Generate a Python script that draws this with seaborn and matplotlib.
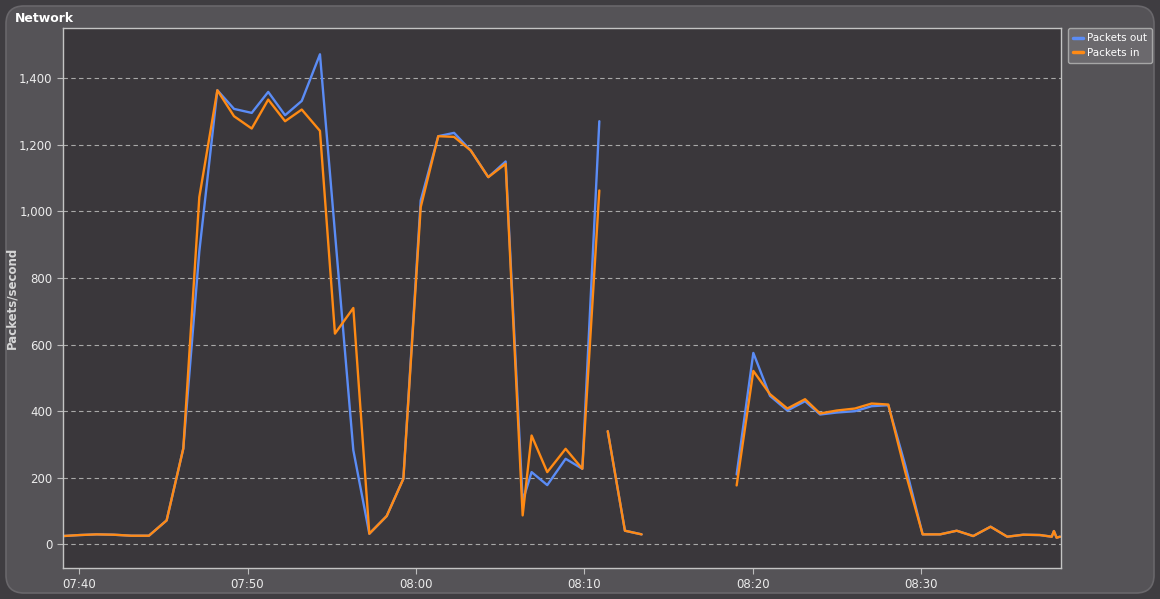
import matplotlib
matplotlib.use("Agg")
import matplotlib.pyplot as plt
from matplotlib.patches import FancyBboxPatch
from matplotlib.lines import Line2D
from matplotlib.ticker import FuncFormatter, FixedLocator
import seaborn as sns
import pandas as pd
import numpy as np

# ---- data (minutes after 07:40) ----
seg1_t = [-0.95, 0.05, 1.05, 2.05, 3.1, 4.15, 5.2, 6.19, 7.14, 8.21, 9.2, 10.25, 11.23,
          12.23, 13.22, 14.3, 15.19, 16.28, 17.23, 18.26, 19.25, 20.28, 21.32, 22.26,
          23.25, 24.29, 25.32, 26.33, 26.86, 27.79, 28.88, 29.87, 30.88]
seg1_in = [25, 28, 30, 29, 26, 26, 72, 288, 1043, 1364, 1286, 1249, 1336, 1271, 1306,
           1242, 633, 710, 32, 85, 197, 1013, 1226, 1224, 1183, 1103, 1143, 87, 327,
           217, 287, 227, 1063]
seg1_out = [25, 28, 30, 29, 26, 26, 72, 288, 880, 1364, 1308, 1296, 1359, 1289, 1332,
            1472, 936, 283, 32, 85, 197, 1033, 1226, 1236, 1183, 1103, 1150, 130, 217,
            178, 257, 227, 1271]

seg2_t = [31.38, 32.40, 33.39]
seg2_in = [340, 41, 30]
seg2_out = [340, 41, 30]

seg3_t = [39.03, 40.02, 41.01, 42.04, 43.09, 43.98, 44.97, 46.05, 47.04, 48.03, 49.05,
          50.07, 51.1, 52.09, 53.07, 54.1, 55.09, 56.04, 57.03, 57.73, 57.86, 58.02, 58.22]
seg3_in = [177, 521, 451, 408, 436, 393, 402, 408, 423, 420, 215, 30, 30, 41, 25, 53,
           23, 29, 28, 23, 40, 20, 23]
seg3_out = [210, 575, 446, 402, 430, 390, 396, 400, 415, 418, 235, 30, 30, 41, 25, 53,
            23, 29, 28, 23, 40, 20, 23]

x_ticks = [0, 10, 20, 30, 40, 50]
x_labels = ["07:40", "07:50", "08:00", "08:10", "08:20", "08:30"]
y_ticks = [0, 200, 400, 600, 800, 1000, 1200, 1400]

series_names = ["Packets out", "Packets in"]
colors = {"Packets out": "#5b8cf5", "Packets in": "#ff8a14"}

rows = []
for seg_id, (t, vin, vout) in enumerate([(seg1_t, seg1_in, seg1_out),
                                         (seg2_t, seg2_in, seg2_out),
                                         (seg3_t, seg3_in, seg3_out)]):
    for ti, a, b in zip(t, vout, vin):
        rows.append({"t": ti, "value": a, "series": "Packets out", "seg": seg_id})
        rows.append({"t": ti, "value": b, "series": "Packets in", "seg": seg_id})
df = pd.DataFrame(rows)

sns.set_theme(style="dark")
plt.rcParams["font.family"] = ["DejaVu Sans"]

fig = plt.figure(figsize=(11.6, 5.99), dpi=100)
fig.patch.set_facecolor("#3f3d41")

# background axes with rounded panel
bg = fig.add_axes([0, 0, 1, 1], zorder=-10)
bg.set_xlim(0, 1160)
bg.set_ylim(599, 0)
bg.axis("off")
bg.add_patch(FancyBboxPatch((6, 6), 1148, 587,
                            boxstyle="round,pad=0,rounding_size=18",
                            facecolor="#555357", edgecolor="#69676b", linewidth=1.2))

ax = fig.add_axes([63 / 1160, 1 - 568 / 599, 998 / 1160, 540 / 599], zorder=1)
ax.set_facecolor("#3a373b")

for name in series_names:
    sub = df[df["series"] == name]
    sns.lineplot(data=sub, x="t", y="value", units="seg", estimator=None,
                 color=colors[name], linewidth=1.7, ax=ax, sort=False,
                 legend=False)

ax.set_xlim(-0.95, 58.28)
ax.set_ylim(-71, 1551)

ax.xaxis.set_major_locator(FixedLocator(x_ticks))
ax.set_xticklabels(x_labels)
ax.yaxis.set_major_locator(FixedLocator(y_ticks))
ax.yaxis.set_major_formatter(FuncFormatter(lambda v, p: f"{int(v):,}"))

ax.tick_params(axis="both", colors="#bdbdbd", labelcolor="#ececec", labelsize=8.5,
               length=4, width=0.8, direction="out", bottom=True, left=True)
ax.grid(axis="y", color="#a8a8a8", linestyle=(0, (4, 3)), linewidth=0.8)
ax.grid(axis="x", visible=False)
for s in ax.spines.values():
    s.set_color("#c4c4c4")
    s.set_linewidth(1.0)

ax.set_xlabel("")
ax.set_ylabel("Packets/second", color="#d6d6d6", fontsize=8.5, fontweight="bold")
ax.yaxis.set_label_coords(-45 / 998, 0.5)

fig.text(15 / 1160, 1 - 18 / 599, "Network", color="white", fontsize=9,
         fontweight="bold", va="center", ha="left")

handles = [Line2D([], [], color=colors[n], linewidth=2.5) for n in series_names]
leg = fig.legend(handles, series_names, loc="upper left",
                 bbox_to_anchor=(1068 / 1160, 1 - 28 / 599), frameon=True,
                 fontsize=7.5, labelcolor="white", handlelength=0.9,
                 handletextpad=0.4, borderpad=0.5, labelspacing=0.45,
                 borderaxespad=0, fancybox=True)
leg.get_frame().set_facecolor("#6b696d")
leg.get_frame().set_edgecolor("#a6a6a6")
leg.get_frame().set_alpha(1.0)

fig.savefig("out.png", dpi=100, facecolor=fig.get_facecolor())
